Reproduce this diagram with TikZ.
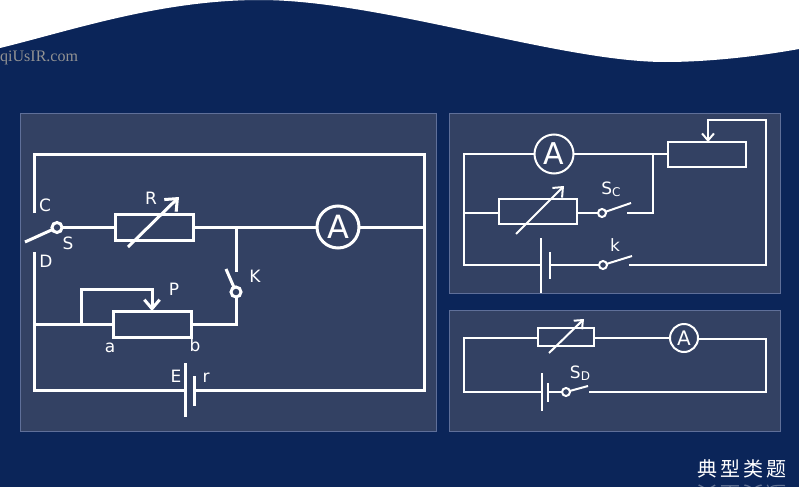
\documentclass[tikz,border=0pt]{standalone}
\usepackage{fontspec}
\setmainfont{DejaVu Sans}
\newfontfamily\markfont{Liberation Serif}
\newfontfamily\cjkfont[LetterSpace=14]{Noto Sans CJK SC}
\usetikzlibrary{arrows.meta}
\definecolor{navybg}{HTML}{0B2559}
\definecolor{panelbg}{HTML}{334163}
\definecolor{panelline}{HTML}{5F6F99}
\begin{document}
\begin{tikzpicture}[x=1pt,y=-1pt,
    panel/.style={draw=panelline,fill=panelbg,line width=0.8pt},
    wire/.style={draw=white,line width=#1},
    wire/.default=2pt,
    rbox/.style={draw=white,fill=none,line width=#1,inner sep=0pt,outer sep=0pt},
    meter/.style={draw=white,circle,line width=#1,inner sep=0pt,outer sep=0pt,text=white},
    hinge/.style={draw=white,circle,line width=#1,inner sep=0pt,outer sep=0pt},
    lbl/.style={text=white,inner sep=0pt,font=\fontsize{17}{17}\selectfont},
    tipopen/.style={-{Straight Barb[length=#1,width=1.7*#1]}}]
    \useasboundingbox (0,0) rectangle (799,487);
    \clip (0,0) rectangle (799,487);
    \fill[navybg] (0,0) rectangle (799,487);
    \fill[white] (0,0) -- (0,48) .. controls (70,31) and (160,0) .. (260,0) .. controls (380,0) and (560,62) .. (665,62) .. controls (710,62) and (760,56) .. (799,49) -- (799,0) --cycle;
    \node[anchor=west,inner sep=0pt,text=gray!85,font=\markfont\fontsize{16}{16}\selectfont] (mark) at (0,58) {qiUsIR.com};
    \node[anchor=center,inner sep=0pt,text=white,font=\cjkfont\fontsize{20}{20}\selectfont] (title) at (742,469) {典型类题};
    \node[anchor=center,inner sep=0pt,text=white,opacity=0.35,yscale=-1,font=\cjkfont\fontsize{20}{20}\selectfont] (shadow) at (742,494) {典型类题};

    \draw[panel] (20.5,113.5) rectangle (436.5,431.5);
    \draw[panel] (449.5,113.5) rectangle (780.5,293.5);
    \draw[panel] (449.5,310.5) rectangle (780.5,431.5);

    \node[rbox=3pt,minimum width=78pt,minimum height=26pt] (R) at (154.5,227) {};
    \node[rbox=3pt,minimum width=78pt,minimum height=26pt] (P) at (152,324) {};
    \node[meter=3pt,minimum size=42pt,font=\fontsize{32}{32}\selectfont] (Aa) at (338,227) {A};
    \node[hinge=3pt,minimum size=10pt] (S) at (57,227.5) {};
    \node[hinge=3pt,minimum size=10pt] (K) at (236,292) {};
    \coordinate (Cend) at (34,213);
    \coordinate (Dend) at (34.5,252);
    \coordinate (Sblade) at (25,242);
    \coordinate (Kblade) at (226,269);
    \coordinate (Ktop) at (236,272);
    \coordinate (Kjoin) at (236,226.5);
    \coordinate (Ewest) at (185,390);
    \coordinate (Rwest) at (194,390);
    \coordinate (NE) at (424.5,154);
    \coordinate (Rjoin) at (424.5,227);
    \coordinate (SE) at (424.5,390);
    \coordinate (Pjoin) at (34.5,324);
    \coordinate (Ptap) at (81,324);
    \draw[wire=3pt] (Cend) -- (34,154) -- (NE) -- (SE) -- (Rwest);
    \draw[wire=3pt] (Dend) -- (34.5,390) -- (Ewest);
    \draw[wire=3pt] (S) -- (R.west |- S);
    \draw[wire=3pt] (R.east) -- (Aa.west);
    \draw[wire=3pt] (Aa.east) -- (Rjoin);
    \draw[wire=3pt] (S) -- (Sblade);
    \draw[wire=3pt] (Kjoin) -- (Ktop);
    \draw[wire=3pt] (K) -- (Kblade);
    \draw[wire=3pt] (K.south) |- (P.east);
    \draw[wire=3pt] (Pjoin) -- (P.west);
    \draw[wire=3pt,tipopen=9pt] (Ptap) -- (81,289) -| (P.north);
    \draw[wire=3pt] (185,363) -- (185,417);
    \draw[wire=3pt] (194,376) -- (194,406);
    \draw[wire=3pt,tipopen=10pt] (128,247) -- (179,197);
    \node[lbl] (labC) at (45,205) {C};
    \node[lbl] (labS) at (68,243) {S};
    \node[lbl] (labD) at (46,261) {D};
    \node[lbl] (labR) at (151,198) {R};
    \node[lbl] (labK) at (255,276) {K};
    \node[lbl] (labP) at (174,289) {P};
    \node[lbl] (laba) at (110,348) {a};
    \node[lbl] (labb) at (195,345) {b};
    \node[lbl] (labE) at (176,376) {E};
    \node[lbl] (labr) at (206,378) {r};

    \node[rbox=2pt,minimum width=78pt,minimum height=25pt] (Rc) at (538,211.5) {};
    \node[rbox=2pt,minimum width=78pt,minimum height=25pt] (Pc) at (707,154.5) {};
    \node[meter=2pt,minimum size=39pt,font=\fontsize{30}{30}\selectfont] (Ac) at (554,154) {A};
    \node[hinge=2pt,minimum size=8pt] (Sc) at (602,213) {};
    \node[hinge=2pt,minimum size=8pt] (kc) at (603,265) {};
    \coordinate (Lc) at (464,154);
    \coordinate (Mc) at (464,213);
    \coordinate (Bc) at (464,265);
    \coordinate (Jc) at (653,154);
    \coordinate (Ec) at (627,213);
    \coordinate (Oc) at (629,265);
    \draw[wire] (Ac.west) -- (Lc) -- (Bc) -- (541,265);
    \draw[wire] (Mc) -- (Rc.west |- Mc);
    \draw[wire] (Rc.east |- Sc) -- (Sc.west);
    \draw[wire] (Sc) -- (631,203);
    \draw[wire] (Ec) -| (Jc);
    \draw[wire] (Ac.east) -- (Pc.west |- Ac);
    \draw[wire] (550,265) -- (kc.west);
    \draw[wire] (kc) -- (632,256);
    \draw[wire,tipopen=7pt] (Oc) -- (766,265) -- (766,120) -- (708,120) -- (708,142);
    \draw[wire] (541,238) -- (541,293);
    \draw[wire] (550,252) -- (550,279);
    \draw[wire,tipopen=8pt] (516,234) -- (564,186);
    \node[lbl] (labSc) at (611,189) {S\raisebox{-2pt}{\fontsize{12}{12}\selectfont C}};
    \node[lbl] (labk) at (615,245) {k};

    \node[rbox=2pt,minimum width=56pt,minimum height=18pt] (Rd) at (566,337) {};
    \node[meter=2pt,minimum size=28pt,font=\fontsize{20}{20}\selectfont] (Ad) at (684,338) {A};
    \node[hinge=2pt,minimum size=8pt] (Sd) at (566,392) {};
    \coordinate (Ld) at (464,338);
    \coordinate (Bd) at (464,392);
    \coordinate (Rd1) at (766,339);
    \coordinate (Rd2) at (766,392);
    \coordinate (Od) at (589,392);
    \draw[wire] (Rd.west |- Ld) -- (Ld) -- (Bd) -- (542,392);
    \draw[wire] (Rd.east |- Ad) -- (Ad.west);
    \draw[wire] (Ad.east |- Rd1) -- (Rd1) -- (Rd2) -- (Od);
    \draw[wire] (548,392) -- (Sd.west);
    \draw[wire] (Sd) -- (588,386);
    \draw[wire] (542,373) -- (542,411);
    \draw[wire] (548,383) -- (548,402);
    \draw[wire,tipopen=7pt] (549,353) -- (584,319);
    \node[lbl] (labSd) at (580,373) {S\raisebox{-2pt}{\fontsize{12}{12}\selectfont D}};
\end{tikzpicture}
\end{document}
